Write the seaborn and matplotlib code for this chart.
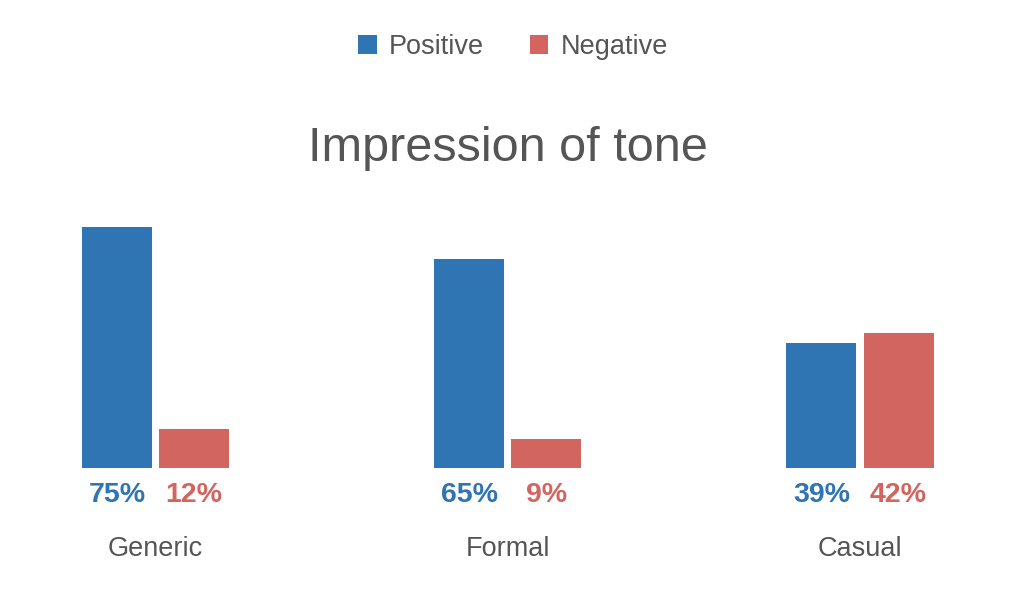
import matplotlib
matplotlib.use("Agg")
import matplotlib.pyplot as plt
import seaborn as sns
import pandas as pd

categories = ["Generic", "Formal", "Casual"]
positive = [75, 65, 39]
negative = [12, 9, 42]
series_names = ["Positive", "Negative"]

df = pd.DataFrame({
    "tone": categories * 2,
    "impression": [series_names[0]] * 3 + [series_names[1]] * 3,
    "value": positive + negative,
})

sns.set_theme(style="white")
plt.rcParams["font.family"] = ["Liberation Sans", "DejaVu Sans"]

BLUE = "#2f74b3"
RED = "#d2655f"
GRAY = "#555555"

W, H = 1024, 597
fig = plt.figure(figsize=(W / 100, H / 100), dpi=100)
base_px = 468
scale = 3.21  # px per percent
ax = fig.add_axes([0, (H - base_px) / H, 1, 100 * scale / H])

sns.barplot(data=df, x="tone", y="value", hue="impression",
            palette=[BLUE, RED], width=0.4375, gap=0.0915,
            order=categories, hue_order=series_names, ax=ax,
            saturation=1, edgecolor="none", linewidth=0)

unit = 352.25
ax.set_xlim(-155.5 / unit, (W - 155.5) / unit)
ax.set_ylim(0, 100)
ax.set_axis_off()

colors = [BLUE, RED]
for cont, col in zip(ax.containers, colors):
    for bar in cont:
        v = bar.get_height()
        ax.annotate(f"{v:.0f}%", (bar.get_x() + bar.get_width() / 2, 0),
                    xytext=(0, -27), textcoords="offset pixels",
                    ha="center", va="center", color=col,
                    fontsize=20.5, fontweight="bold")

for i, c in enumerate(categories):
    ax.annotate(c, (i, 0), xytext=(0, -81), textcoords="offset pixels",
                ha="center", va="center", color=GRAY, fontsize=19.5)

fig.text(508 / W, 1 - 149 / H, "Impression of tone", ha="center", va="center",
         color=GRAY, fontsize=35)

sns.move_legend(ax, "center", bbox_to_anchor=(513 / W, 1 - 47 / H),
                bbox_transform=fig.transFigure, ncol=2, frameon=False,
                title=None, fontsize=19.5, handlelength=0.68, handleheight=0.68,
                handletextpad=0.45, columnspacing=1.7, labelcolor=GRAY)

fig.savefig("out.png", dpi=100)
